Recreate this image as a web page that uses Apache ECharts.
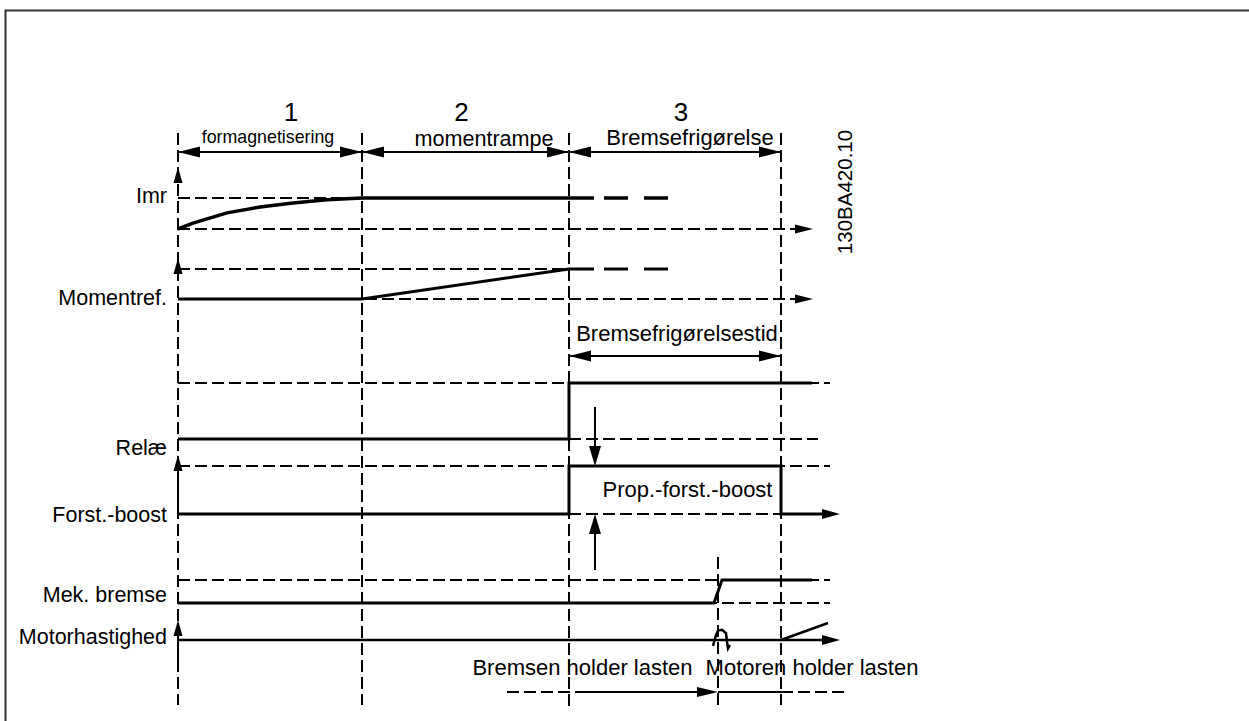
<!DOCTYPE html>
<html><head><meta charset="utf-8">
<script src="https://cdn.jsdelivr.net/npm/echarts@6/dist/echarts.min.js"></script>
<style>html,body{margin:0;padding:0;background:#fff}#c{width:1249px;height:721px}</style>
</head><body><div id="c"></div>
<script>
// ---------------- data (time in arbitrary units; level 0 = inactive, 1 = active) ----------------
const phaseBounds = [0, 18.4, 39.1, 60.3];
const phaseNumbers = ['1', '2', '3'];
const phaseNames = ['formagnetisering', 'momentrampe', 'Bremsefrigørelse'];
const signalNames = ['Imr', 'Momentref.', 'Relæ', 'Forst.-boost', 'Mek. bremse', 'Motorhastighed'];

const imrT = [0, 1.5, 4.9, 8.2, 11.5, 14.9, 18.4, 41.6];
const imrLevel = [0, 0.19, 0.52, 0.71, 0.84, 0.94, 1, 1];
const momT = [0, 18.4, 39.1, 41.6];
const momLevel = [0, 0, 1, 1];
const tailDashT = [[42.6, 45.0], [46.6, 49.0]];
const relT = [0, 39.1, 39.1, 63.4];
const relLevel = [0, 0, 1, 1];
const boostT = [0, 39.1, 39.1, 60.3, 60.3, 66.2];
const boostLevel = [0, 0, 1, 1, 0, 0];
const brakeT = [0, 53.6, 54.4, 63.4];
const brakeLevel = [0, 0, 1, 1];
const speedT = [0, 66.2];
const speedLevel = [0, 0];
const speedRiseT = [60.3, 65.0];
const speedRiseLevel = [0, 1];
const speedDipT = [53.5, 53.8, 54.0, 54.4, 54.8, 54.9, 55.0, 55.2];
const speedDipLevel = [-0.35, 0.3, 0.55, 0.6, 0.4, -0.1, -0.5, -0.3];
const brakeReleaseT = 54.0;
const boostMeasureT = 41.7;
const releaseTimeLabel = 'Bremsefrigørelsestid';
const boostLabel = 'Prop.-forst.-boost';
const holdLabels = ['Bremsen holder lasten', 'Motoren holder lasten'];
const docId = '130BA420.10';

// ---------------- layout (vertical axis units, inverse axis 0..72.1) ----------------
const lanes = {
  imr:   {lo: 22.9, hi: 19.8},
  mom:   {lo: 29.9, hi: 26.9},
  rel:   {lo: 43.9, hi: 38.3},
  boost: {lo: 51.4, hi: 46.6},
  brake: {lo: 60.3, hi: 58.0},
  speed: {lo: 64.0, hi: 62.3}
};
const INK = '#000';
const FONT = '"Liberation Sans", Arial, sans-serif';

function renderAll(params, api) {
  const ch = [];
  const P = (t, y) => api.coord([t, y]);
  const lv = (lane, l) => lanes[lane].lo + l * (lanes[lane].hi - lanes[lane].lo);
  const sig = (lane, ts, ls) => ts.map((t, i) => P(t, lv(lane, ls[i])));
  const dash = (pts, w) => ch.push({type: 'polyline', shape: {points: pts},
    style: {stroke: INK, lineWidth: w || 2, lineDash: [12, 5], fill: null}});
  const solid = (pts, w) => ch.push({type: 'polyline', shape: {points: pts},
    style: {stroke: INK, lineWidth: w || 3, fill: null, lineJoin: 'miter', lineCap: 'butt'}});
  const head = (tip, from, len, hw) => {
    const dx = tip[0] - from[0], dy = tip[1] - from[1], d = Math.hypot(dx, dy);
    const ux = dx / d, uy = dy / d, bx = tip[0] - ux * len, by = tip[1] - uy * len;
    ch.push({type: 'polygon', shape: {points: [tip, [bx - uy * hw, by + ux * hw], [bx + uy * hw, by - ux * hw]]},
      style: {fill: INK}});
  };
  const text = (str, p, size, align, rot) => ch.push({type: 'text', x: p[0], y: p[1], rotation: rot || 0,
    style: {text: str, fill: INK, font: size + 'px ' + FONT, align: align || 'center', verticalAlign: 'middle'}});

  // guide lines
  phaseBounds.forEach((b, i) => dash([P(b, 13.3), P(b, i === 2 ? 71.0 : 70.5)]));
  dash([P(brakeReleaseT, 55.7), P(brakeReleaseT, 70.5)]);

  // lane reference dashed lines
  dash([P(0, lv('imr', 1)), P(phaseBounds[1], lv('imr', 1))]);
  dash([P(0, lv('imr', 0)), P(61.7, lv('imr', 0))]);
  dash([P(0, lv('mom', 1)), P(phaseBounds[2], lv('mom', 1))]);
  dash([P(0, lv('mom', 0)), P(61.7, lv('mom', 0))]);
  dash([P(0, lv('rel', 1)), P(65.2, lv('rel', 1))]);
  dash([P(0, lv('rel', 0)), P(64.0, lv('rel', 0))]);
  dash([P(0, lv('boost', 1)), P(65.2, lv('boost', 1))]);
  dash([P(0, lv('boost', 0)), P(phaseBounds[3], lv('boost', 0))]);
  dash([P(0, lv('brake', 1)), P(65.2, lv('brake', 1))]);
  dash([P(0, lv('brake', 0)), P(65.2, lv('brake', 0))]);
  head(P(63.5, lv('imr', 0)), P(0, lv('imr', 0)), 18, 4.5);
  head(P(63.5, lv('mom', 0)), P(0, lv('mom', 0)), 18, 4.5);

  // signals
  solid(sig('imr', imrT, imrLevel), 3.5);
  solid(sig('mom', momT, momLevel), 3);
  tailDashT.forEach(d => { solid(sig('imr', d, [1, 1]), 3.5); solid(sig('mom', d, [1, 1]), 3); });
  solid(sig('rel', relT, relLevel), 3);
  const bp = sig('boost', boostT, boostLevel);
  bp[bp.length - 1] = P(boostT[boostT.length - 1] - 1.6, lv('boost', 0));
  solid(bp, 3);
  head(P(boostT[boostT.length - 1], lv('boost', 0)), P(0, lv('boost', 0)), 18, 5);
  solid(sig('brake', brakeT, brakeLevel), 3);
  solid([P(speedT[0], lv('speed', speedLevel[0])), P(speedT[1] - 1.6, lv('speed', speedLevel[1]))], 2.5);
  head(P(speedT[1], lv('speed', 0)), P(0, lv('speed', 0)), 18, 5);
  solid(sig('speed', speedRiseT, speedRiseLevel), 2.5);
  solid(sig('speed', speedDipT, speedDipLevel), 2.5);

  // up arrows on the time origin
  head(P(0, 16.7), P(0, 30), 16, 4.5);
  head(P(0, 25.8), P(0, 30), 16, 4.5);
  head(P(0, 45.5), P(0, 60), 16, 4.5);
  solid([P(0, 46.5), P(0, 51.4)], 2);
  head(P(0, 62.0), P(0, 70), 16, 4.5);
  solid([P(0, 63.0), P(0, 66.2)], 2);

  // phase arrows
  for (let i = 0; i < 3; i++) {
    const a = P(phaseBounds[i], 15.2), b = P(phaseBounds[i + 1], 15.2);
    solid([a, b], 2);
    head(a, b, 22, 5.5);
    head(b, a, 22, 5.5);
    const mid = (phaseBounds[i] + phaseBounds[i + 1]) / 2;
    text(phaseNumbers[i], P(mid + [2.1, -0.4, 0.6][i], 11.2), 26);
  }
  text(phaseNames[0], P(9.0, 13.7), 17.8);
  text(phaseNames[1], P(30.6, 13.8), 21.6);
  text(phaseNames[2], P(51.2, 13.7), 22);

  // brake release time
  const r1 = P(phaseBounds[2], 35.6), r2 = P(phaseBounds[3], 35.6);
  solid([r1, r2], 2);
  head(r1, r2, 22, 5.5);
  head(r2, r1, 22, 5.5);
  text(releaseTimeLabel, P(49.9, 33.3), 22);

  // proportional boost measurement
  solid([P(boostMeasureT, 40.7), P(boostMeasureT, 45.0)], 2);
  head(P(boostMeasureT, lv('boost', 1)), P(boostMeasureT, 40.7), 20, 6);
  solid([P(boostMeasureT, 57.0), P(boostMeasureT, 53.0)], 2);
  head(P(boostMeasureT, lv('boost', 0)), P(boostMeasureT, 57.0), 20, 6);
  text(boostLabel, P(50.95, 48.9), 22);

  // hold labels & arrow
  dash([P(32.9, 69.2), P(40.2, 69.2)]);
  solid([P(40.2, 69.2), P(brakeReleaseT - 1.5, 69.2)], 2);
  head(P(brakeReleaseT, 69.2), P(40, 69.2), 21, 5);
  solid([P(brakeReleaseT, 69.2), P(phaseBounds[3], 69.2)], 2);
  dash([P(phaseBounds[3], 69.2), P(66.7, 69.2)]);
  text(holdLabels[0], P(40.45, 66.7), 22);
  text(holdLabels[1], P(63.4, 66.7), 22);

  // signal names
  const nameY = [19.6, 29.8, 44.8, 51.5, 59.5, 63.7];
  signalNames.forEach((n, i) => text(n, P(-1.1, nameY[i]), 21.5, 'right'));

  // document id
  text(docId, P(66.6, 19.2), 20.5, 'center', Math.PI / 2);

  return {type: 'group', children: ch};
}

const chart = echarts.init(document.getElementById('c'), null, {renderer: 'svg'});
chart.setOption({
  animation: false,
  backgroundColor: '#fff',
  grid: {left: 0, right: 0, top: 0, bottom: 0},
  xAxis: {type: 'value', min: -17.8, max: 107.1, show: false},
  yAxis: {type: 'value', min: 0, max: 72.1, inverse: true, show: false},
  graphic: [
    {type: 'polyline', shape: {points: [[5.5, 721], [5.5, 10.5], [1249, 10.5]]},
     style: {stroke: '#333', lineWidth: 2, fill: null}}
  ],
  series: [{type: 'custom', data: [[0, 0]], clip: false, silent: true, renderItem: renderAll}]
});
</script></body></html>
